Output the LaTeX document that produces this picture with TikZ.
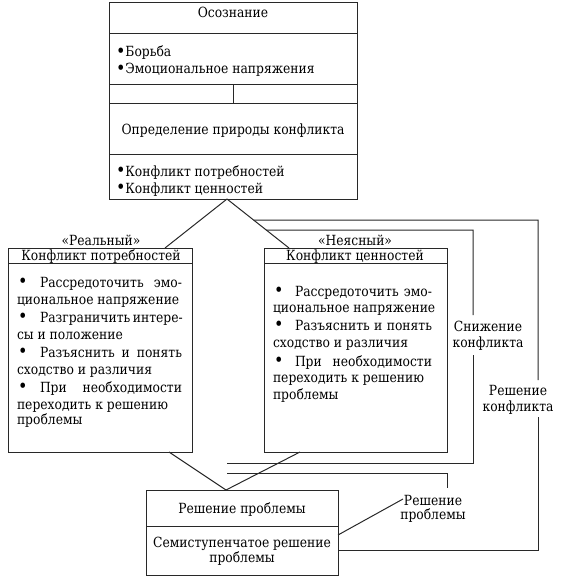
\documentclass[tikz,border=0pt]{standalone}
\usepackage{fontspec}
\usepackage{graphicx}
\setmainfont{DejaVu Serif}[FakeStretch=0.88]
\usetikzlibrary{fit,calc}
\definecolor{ink}{RGB}{40,40,40}
\newcommand\mainsize{\rmfamily\fontsize{10.5pt}{12.75pt}\selectfont}
\newcommand\jl[2]{\makebox[#1][s]{#2}}
\newcommand\bul{\raisebox{-0.12ex}{\scalebox{1.3}{•}}}
\tikzset{
  frame/.style={draw=ink, line width=0.75pt, inner sep=0pt, outer sep=0pt},
  conn/.style={draw=ink, line width=0.75pt},
  txt/.style={inner sep=0pt, outer sep=0pt, anchor=base, font=\mainsize},
  txtl/.style={txt, anchor=base west},
}
\begin{document}
\begin{tikzpicture}[x=0.75pt,y=-0.75pt]
\useasboundingbox (0,0) rectangle (564,588);
% ---------- top block ----------
\node[frame, fit={(109,3) (357,199)}] (topbox) {};
\draw[conn] (109,34) -- (357,34);
\draw[conn] (109,85) -- (357,85);
\draw[conn] (109,104) -- (357,104);
\draw[conn] (109,154) -- (357,154);
\draw[conn] (233,85) -- (233,104);
\node[txt] (tos) at (233,18) {Осознание};
\node[txtl] (tb1) at (116,57) {\bul Борьба};
\node[txtl] (tb2) at (116,74) {\bul Эмоциональное напряжения};
\node[txt] (top) at (233,135) {Определение природы конфликта};
\node[txtl] (tk1) at (116,176) {\bul Конфликт потребностей};
\node[txtl] (tk2) at (116,193) {\bul Конфликт ценностей};
% ---------- left box ----------
\node[frame, fit={(8,248) (192,452)}] (leftbox) {};
\draw[conn] (8,263) -- (192,263);
\node[txt] (lreal) at (101,245) {«Реальный»};
\node[txt] (lhead) at (101,260) {Конфликт потребностей};
\node[txtl] (lb1) at (18,287) {\bul};
\node[txtl] (l1a) at (40,287) {\jl{106.5pt}{Рассредоточить эмо-}};
\node[txtl] (l1b) at (17,304) {циональное напряжение};
\node[txtl] (lb2) at (18,322) {\bul};
\node[txtl] (l2a) at (40,322) {\jl{106.5pt}{Разграничить интере-}};
\node[txtl] (l2b) at (17,339) {сы и положение};
\node[txtl] (lb3) at (18,357) {\bul};
\node[txtl] (l3a) at (40,357) {\jl{106.5pt}{Разъяснить и понять}};
\node[txtl] (l3b) at (17,374) {сходство и различия};
\node[txtl] (lb4) at (18,392) {\bul};
\node[txtl] (l4a) at (40,392) {\jl{106.5pt}{При необходимости}};
\node[txtl] (l4b) at (17,409) {переходить к решению};
\node[txtl] (l4c) at (17,424) {проблемы};
% ---------- right box ----------
\node[frame, fit={(264,248) (447,452)}] (rightbox) {};
\draw[conn] (264,263) -- (447,263);
\node[txt] (rnej) at (355,245) {«Неясный»};
\node[txt] (rhead) at (355,260) {Конфликт ценностей};
\node[txtl] (rb1) at (274,296) {\bul};
\node[txtl] (r1a) at (295,296) {\jl{102.75pt}{Рассредоточить эмо-}};
\node[txtl] (r1b) at (273,312) {циональное напряжение};
\node[txtl] (rb2) at (274,330) {\bul};
\node[txtl] (r2a) at (295,330) {\jl{102.75pt}{Разъяснить и понять}};
\node[txtl] (r2b) at (273,347) {сходство и различия};
\node[txtl] (rb3) at (274,366) {\bul};
\node[txtl] (r3a) at (295,366) {\jl{102.75pt}{При необходимости}};
\node[txtl] (r3b) at (273,382) {переходить к решению};
\node[txtl] (r3c) at (273,399) {проблемы};
% ---------- bottom box ----------
\node[frame, fit={(146,490) (338,575)}] (botbox) {};
\draw[conn] (146,526) -- (338,526);
\node[txt] (bhead) at (242,513) {Решение проблемы};
\node[txt] (bl1) at (242,547) {Семиступенчатое решение};
\node[txt] (bl2) at (242,562) {проблемы};
% ---------- side labels ----------
\node[txt] (sa1) at (488,331) {Снижение};
\node[txt] (sa2) at (488,347) {конфликта};
\node[txt] (sb1) at (518,395) {Решение};
\node[txt] (sb2) at (518,411) {конфликта};
\node[txt] (sc1) at (433,505) {Решение};
\node[txt] (sc2) at (433,519) {проблемы};
% ---------- connectors ----------
\coordinate (apex1) at (227,199);
\coordinate (lin) at (165,248);
\coordinate (rin) at (289,248);
\draw[conn] (apex1) -- (lin);
\draw[conn] (apex1) -- (rin);
\coordinate (lout) at (169,452);
\coordinate (rout) at (300,452);
\coordinate (apex2) at (226,490);
\draw[conn] (lout) -- (apex2) -- (rout);
% outer loop (Решение конфликта)
\coordinate (o1) at ($(apex1)!{21/49}!(rin)$);
\coordinate (o2) at (538,220);
\coordinate (o3) at (538,380);
\coordinate (o4) at (538,417);
\coordinate (o5) at (538,550);
\coordinate (o6) at (338,550);
\draw[conn] (o1) -- (o2) -- (o3);
\draw[conn] (o4) -- (o5) -- (o6);
% inner loop (Снижение конфликта)
\coordinate (i1) at ($(apex1)!{31/49}!(rin)$);
\coordinate (i2) at (473,230);
\coordinate (i3) at (473,315);
\coordinate (i4) at (473,355);
\coordinate (i5) at (473,463);
\coordinate (i6) at (227,463);
\draw[conn] (i1) -- (i2) -- (i3);
\draw[conn] (i4) -- (i5) -- (i6);
% third line (Решение проблемы)
\coordinate (p1) at (227,473);
\coordinate (p2) at (447,473);
\coordinate (p3) at (447,488);
\coordinate (p4) at (403,499);
\coordinate (p5) at (338,535);
\draw[conn] (p1) -- (p2) -- (p3);
\draw[conn] (p4) -- (p5);
\end{tikzpicture}
\end{document}
